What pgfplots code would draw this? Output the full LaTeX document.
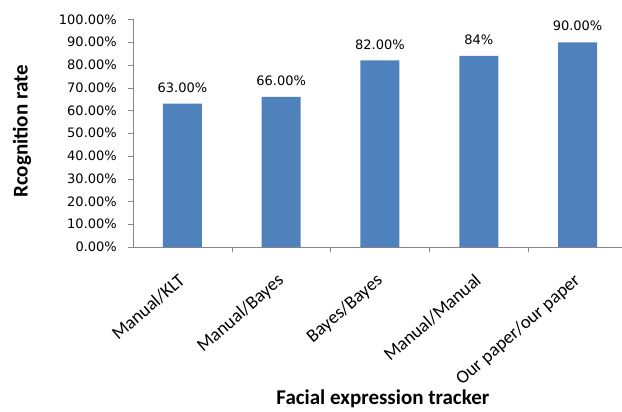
\documentclass[border=0pt]{standalone}
\usepackage{fontspec}
\setmainfont{DejaVu Sans}
\newfontfamily\titlefont{Carlito}
\usepackage{pgfplots}
\pgfplotsset{compat=1.18}

\definecolor{barblue}{HTML}{4F81BD}
\definecolor{axisgray}{HTML}{868686}

\begin{document}
\begin{tikzpicture}
\begin{axis}[
    at={(0,0)}, anchor=south west,
    scale only axis,
    width=489bp, height=227.5bp,
    xmin=-0.5, xmax=4.45,
    ymin=0, ymax=100,
    axis lines=left,
    axis line style={-, draw=axisgray},
    tick align=outside,
    tick style={draw=axisgray},
    major tick length=5bp,
    minor tick length=5bp,
    ytick={0,10,...,100},
    yticklabels={0.00\%,10.00\%,20.00\%,30.00\%,40.00\%,50.00\%,60.00\%,70.00\%,80.00\%,90.00\%,100.00\%},
    yticklabel style={font=\fontsize{13bp}{15bp}\selectfont, inner sep=0pt, xshift=-11bp},
    xtick={0,1,2,3,4},
    xticklabels={Manual/KLT, Manual/Bayes, Bayes/Bayes, Manual/Manual, Our paper/our paper},
    major x tick style={draw=none},
    minor xtick={0.5,1.5,2.5,3.5},
    xticklabel style={font=\titlefont\fontsize{18.5bp}{20bp}\selectfont, rotate=41, anchor=north east, inner sep=0pt, xshift=-17bp, yshift=-12bp},
    xlabel={\titlefont\bfseries Facial expression tracker},
    xlabel style={font=\fontsize{21bp}{24bp}\selectfont, at={(axis description cs:0.511,-0.668)}, anchor=center},
    ylabel={\titlefont\bfseries Rcognition rate},
    ylabel style={font=\fontsize{21bp}{24bp}\selectfont, at={(axis description cs:-0.227,0.508)}, anchor=center},
    ybar,
    bar width=39bp,
    point meta=explicit symbolic,
    nodes near coords,
    every node near coord/.append style={font=\fontsize{13bp}{15bp}\selectfont, anchor=center, yshift=16bp},
]
\addplot[fill=barblue, draw=none] coordinates {
    (0,63) [63.00\%]
    (1,66) [66.00\%]
    (2,82) [82.00\%]
    (3,84) [84\%]
    (4,90) [90.00\%]
};
\end{axis}
\pgfresetboundingbox
\path (-133bp,-165bp) rectangle (489bp,247bp);
\end{tikzpicture}
\end{document}
